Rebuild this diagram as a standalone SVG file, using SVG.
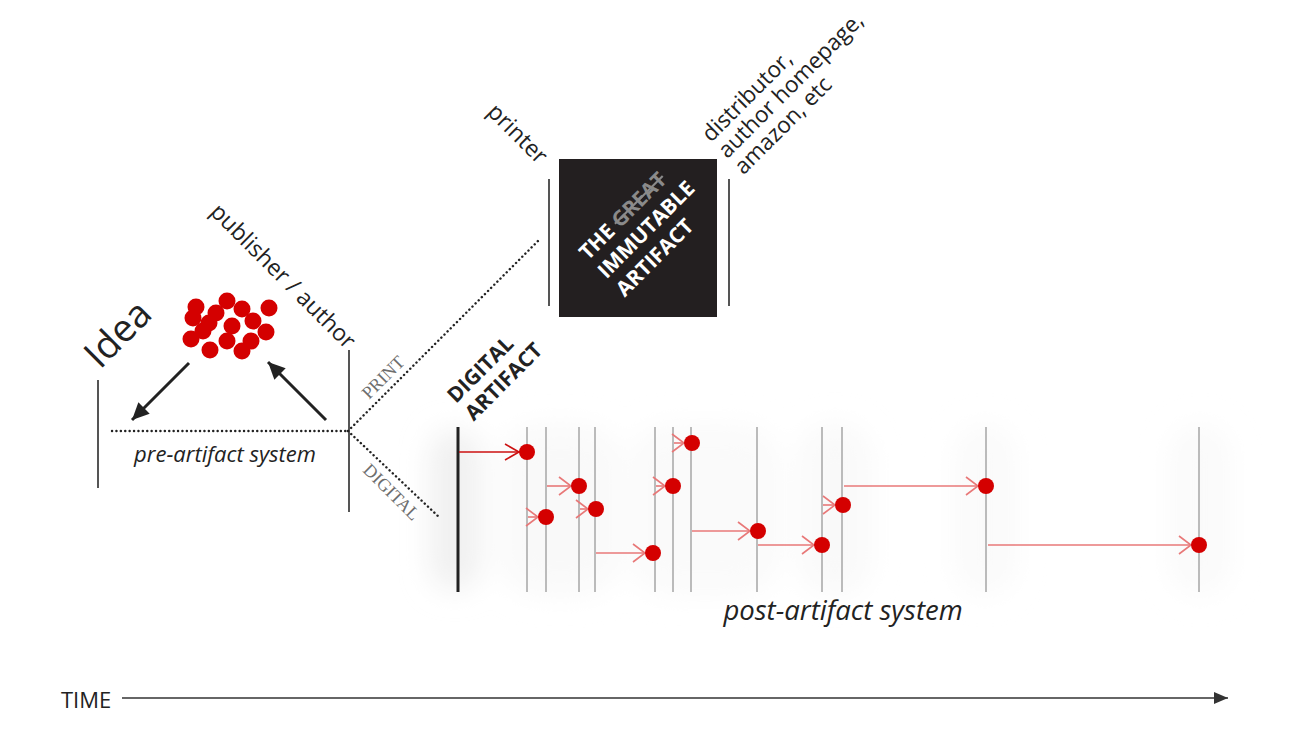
<svg xmlns="http://www.w3.org/2000/svg" width="1300" height="730" viewBox="0 0 1300 730">
<defs>
<style>
.lbl{font-family:"Open Sans","Liberation Sans",sans-serif;fill:#222;}
.it{font-family:"Open Sans","Liberation Sans",sans-serif;font-style:italic;fill:#222;}
.bold{font-family:"Open Sans","Liberation Sans",sans-serif;font-weight:bold;}
.serif{font-family:"Liberation Serif","DejaVu Serif",serif;fill:#6e6e6e;font-size:18px;}
.vline{stroke:#555;stroke-width:2;}
.gline{stroke:#bbb;stroke-width:2;}
.dot{stroke:#222;stroke-width:2.4;stroke-linecap:round;stroke-dasharray:0.1 4.3;fill:none;}
.rd{fill:#d40000;}
.pk{stroke:#e87878;stroke-width:1.6;fill:none;}
.dk{stroke:#cc1010;stroke-width:1.6;fill:none;}
</style>
<marker id="chevPk" markerUnits="userSpaceOnUse" viewBox="-14 -11 16 22" refX="0" refY="0" markerWidth="16" markerHeight="22" orient="auto">
<path d="M-12,-9 L0,0 L-12,9" fill="none" stroke="#e87878" stroke-width="1.6"/>
</marker>
<marker id="chevDk" markerUnits="userSpaceOnUse" viewBox="-16 -11 18 22" refX="0" refY="0" markerWidth="18" markerHeight="22" orient="auto">
<path d="M-14,-8 L0,0 L-14,8" fill="none" stroke="#cc1010" stroke-width="1.6"/>
</marker>
<marker id="blkArrow" markerUnits="userSpaceOnUse" viewBox="-18 -9 20 18" refX="0" refY="0" markerWidth="20" markerHeight="18" orient="auto">
<path d="M-17,-8 L0,0 L-17,8 Z" fill="#222"/>
</marker>
<marker id="timeArrow" markerUnits="userSpaceOnUse" viewBox="-16 -7 18 14" refX="0" refY="0" markerWidth="18" markerHeight="14" orient="auto">
<path d="M-14,-6 L0,0 L-14,6 Z" fill="#333"/>
</marker>
<filter id="soft" x="-50%" y="-50%" width="200%" height="200%">
<feGaussianBlur stdDeviation="14"/>
</filter>
</defs>
<rect width="1300" height="730" fill="#ffffff"/>

<!-- faint shading behind post-artifact timeline -->
<g id="shading" filter="url(#soft)">
<rect x="430" y="430" width="50" height="160" rx="25" fill="#f0f0f0"/>
<rect x="500" y="425" width="120" height="170" rx="40" fill="#f9f9f9"/>
<rect x="630" y="425" width="150" height="170" rx="40" fill="#fafafa"/>
<rect x="800" y="425" width="70" height="170" rx="30" fill="#f9f9f9"/>
<rect x="955" y="425" width="60" height="170" rx="30" fill="#fafafa"/>
<rect x="1170" y="425" width="60" height="170" rx="30" fill="#fafafa"/>
</g>

<g id="connectors">
<!-- pre-artifact frame -->
<line class="vline" x1="98" y1="380" x2="98" y2="488"/>
<line class="vline" x1="349" y1="350" x2="349" y2="512"/>
<line class="dot" x1="112" y1="431" x2="348" y2="431"/>
<line class="dot" x1="348" y1="431" x2="539" y2="240"/>
<line class="dot" x1="348" y1="431" x2="440" y2="518"/>
<line x1="189" y1="363" x2="132" y2="420" stroke="#222" stroke-width="3" marker-end="url(#blkArrow)"/>
<line x1="326" y1="420" x2="268" y2="362" stroke="#222" stroke-width="3" marker-end="url(#blkArrow)"/>
<!-- artifact frame lines -->
<line class="vline" x1="549" y1="179" x2="549" y2="306"/>
<line class="vline" x1="729" y1="179" x2="729" y2="306"/>
<!-- timeline verticals -->
<g>
<line class="gline" x1="527" y1="427" x2="527" y2="592"/>
<line class="gline" x1="546" y1="427" x2="546" y2="592"/>
<line class="gline" x1="579" y1="427" x2="579" y2="592"/>
<line class="gline" x1="595" y1="427" x2="595" y2="592"/>
<line class="gline" x1="655" y1="427" x2="655" y2="592"/>
<line class="gline" x1="673" y1="427" x2="673" y2="592"/>
<line class="gline" x1="691" y1="427" x2="691" y2="592"/>
<line class="gline" x1="757" y1="427" x2="757" y2="592"/>
<line class="gline" x1="822" y1="427" x2="822" y2="592"/>
<line class="gline" x1="842" y1="427" x2="842" y2="592"/>
<line class="gline" x1="986" y1="427" x2="986" y2="592"/>
<line class="gline" x1="1199" y1="427" x2="1199" y2="592"/>
</g>
<line x1="458" y1="427" x2="458" y2="592" stroke="#222" stroke-width="3"/>
<!-- red arrows -->
<line class="dk" x1="459" y1="452" x2="519" y2="452" marker-end="url(#chevDk)"/>
<line class="pk" x1="528" y1="517" x2="538" y2="517" marker-end="url(#chevPk)"/>
<line class="pk" x1="547" y1="486" x2="571" y2="486" marker-end="url(#chevPk)"/>
<line class="pk" x1="580" y1="509" x2="588" y2="509" marker-end="url(#chevPk)"/>
<line class="pk" x1="596" y1="553" x2="645" y2="553" marker-end="url(#chevPk)"/>
<line class="pk" x1="656" y1="486" x2="665" y2="486" marker-end="url(#chevPk)"/>
<line class="pk" x1="674" y1="443" x2="684" y2="443" marker-end="url(#chevPk)"/>
<line class="pk" x1="692" y1="531" x2="750" y2="531" marker-end="url(#chevPk)"/>
<line class="pk" x1="758" y1="545" x2="814" y2="545" marker-end="url(#chevPk)"/>
<line class="pk" x1="823" y1="505" x2="835" y2="505" marker-end="url(#chevPk)"/>
<line class="pk" x1="844" y1="486" x2="978" y2="486" marker-end="url(#chevPk)"/>
<line class="pk" x1="988" y1="545" x2="1191" y2="545" marker-end="url(#chevPk)"/>
<!-- time axis -->
<line x1="122" y1="698" x2="1228" y2="698" stroke="#333" stroke-width="1.6" marker-end="url(#timeArrow)"/>
</g>

<g id="idea-cloud">
<circle class="rd" cx="196" cy="307" r="8.5"/>
<circle class="rd" cx="227" cy="301" r="8.5"/>
<circle class="rd" cx="242" cy="309" r="8.5"/>
<circle class="rd" cx="269" cy="308" r="8.5"/>
<circle class="rd" cx="193" cy="318" r="8.5"/>
<circle class="rd" cx="216" cy="313" r="8.5"/>
<circle class="rd" cx="209" cy="323" r="8.5"/>
<circle class="rd" cx="232" cy="326" r="8.5"/>
<circle class="rd" cx="253" cy="321" r="8.5"/>
<circle class="rd" cx="266" cy="332" r="8.5"/>
<circle class="rd" cx="191" cy="339" r="8.5"/>
<circle class="rd" cx="210" cy="350" r="8.5"/>
<circle class="rd" cx="227" cy="341" r="8.5"/>
<circle class="rd" cx="242" cy="351" r="8.5"/>
<circle class="rd" cx="251" cy="341" r="8.5"/>
<circle class="rd" cx="203" cy="331" r="8.5"/>
</g>

<g id="idea-label">
<text class="lbl" font-size="38" transform="translate(100,370) rotate(-45)">Idea</text>
</g>
<g id="pre-artifact-label">
<text class="it" font-size="22" x="225" y="462" text-anchor="middle">pre-artifact system</text>
</g>
<g id="publisher-label">
<text class="lbl" font-size="23" transform="translate(209,213) rotate(45)">publisher / author</text>
</g>
<g id="print-label">
<text class="serif" transform="translate(369,400) rotate(-45)">PRINT</text>
</g>
<g id="digital-label">
<text class="serif" transform="translate(362,471) rotate(45)">DIGITAL</text>
</g>

<g id="printer-label">
<text class="lbl" font-size="23" transform="translate(486,113) rotate(45)">printer</text>
</g>
<g id="immutable-artifact">
<rect x="559" y="159" width="158" height="158" fill="#231f20"/>
<text class="bold" font-size="21" fill="#ffffff" transform="translate(588,261) rotate(-45)">
<tspan x="0" y="0">THE <tspan fill="#8a8a8a" text-decoration="line-through">GREAT</tspan></tspan>
<tspan x="0" y="26">IMMUTABLE</tspan>
<tspan x="0" y="52">ARTIFACT</tspan>
</text>
</g>
<g id="distributor-label">
<text class="lbl" font-size="22.5" transform="translate(711,143) rotate(-45)">
<tspan x="0" y="0">distributor,</tspan>
<tspan x="0" y="23">author homepage,</tspan>
<tspan x="0" y="46">amazon, etc</tspan>
</text>
</g>

<g id="digital-artifact-label">
<text class="bold" font-size="21" fill="#222" transform="translate(456,404) rotate(-45)">
<tspan x="0" y="0">DIGITAL</tspan>
<tspan x="0" y="25">ARTIFACT</tspan>
</text>
</g>

<g id="timeline-dots">
<circle class="rd" cx="527" cy="452" r="8"/>
<circle class="rd" cx="546" cy="517" r="8"/>
<circle class="rd" cx="579" cy="486" r="8"/>
<circle class="rd" cx="596" cy="509" r="8"/>
<circle class="rd" cx="653" cy="553" r="8"/>
<circle class="rd" cx="673" cy="486" r="8"/>
<circle class="rd" cx="692" cy="443" r="8"/>
<circle class="rd" cx="758" cy="531" r="8"/>
<circle class="rd" cx="822" cy="545" r="8"/>
<circle class="rd" cx="843" cy="505" r="8"/>
<circle class="rd" cx="986" cy="486" r="8"/>
<circle class="rd" cx="1199" cy="545" r="8"/>
</g>

<g id="post-artifact-label">
<text class="it" font-size="27.5" x="843" y="620" text-anchor="middle">post-artifact system</text>
</g>
<g id="time-label">
<text class="lbl" font-size="22" x="61" y="708">TIME</text>
</g>
</svg>
